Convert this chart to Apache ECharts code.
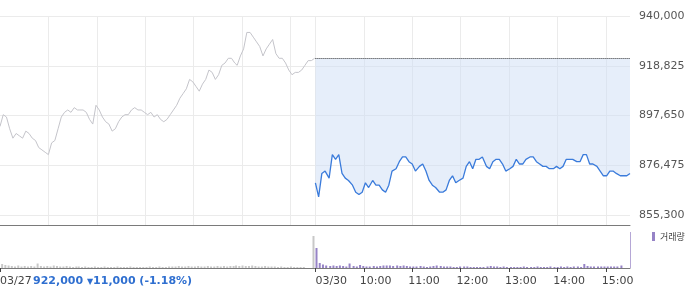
<!DOCTYPE html>
<html><head><meta charset="utf-8">
<script src="https://cdn.jsdelivr.net/npm/echarts@6.0.0/dist/echarts.min.js"></script>
<style>html,body{margin:0;padding:0;background:#fff}#c{width:700px;height:289px}</style>
</head><body><div id="c"></div>
<script>
// ---- data ----
const days = ['03/27', '03/30'];
const hourLabels = ['10:00', '11:00', '12:00', '13:00', '14:00', '15:00'];
const yTickLabels = ['855,300', '876,475', '897,650', '918,825', '940,000'];
const Y_MIN = 855300, Y_MAX = 940000, Y_STEP = 21175;
const prevClose = 922000;
const infoParts = ['922,000', '▼', '11,000 (-1.18%)'];
const volumeName = '거래량';

const prevPrices = [893000,898000,897000,892000,888000,890000,889000,888000,891000,890000,
  888000,887000,884000,883000,882000,881000,886000,887000,892000,897000,
  899000,900000,899000,901000,900000,900000,900000,899000,896000,894000,
  902000,900000,897000,895000,894000,891000,892000,895000,897000,898000,
  898000,900000,901000,900000,900000,899000,898000,899000,897000,898000,
  896000,895000,896000,898000,900000,902000,905000,907000,909000,913000,
  912000,910000,908000,911000,913000,917000,916000,913000,915000,919000,
  920000,922000,922000,920000,919000,923000,926000,933000,933000,931000,
  929000,927000,923000,926000,928000,930000,924000,922000,922000,920000,
  917000,915000,916000,916000,917000,919000,921000,921000,922000];

const todayPrices = [869000,863000,873000,874000,871000,881000,879000,881000,873000,871000,
  870000,868000,865000,864000,865000,869000,867000,870000,868000,868000,
  866000,865000,868000,874000,875000,878000,880000,880000,878000,877000,
  874000,876000,877000,874000,870000,868000,867000,865000,865000,866000,
  870000,872000,869000,870000,871000,876000,878000,875000,879000,879000,
  880000,876000,875000,878000,879000,879000,877000,874000,875000,876000,
  879000,877000,877000,879000,880000,880000,878000,877000,876000,876000,
  875000,875000,876000,875000,876000,879000,879000,879000,878000,878000,
  881000,881000,877000,877000,876000,874000,872000,872000,874000,874000,
  873000,872000,872000,872000,873000];

const prevVolume = [2200,400,300,250,200,150,250,150,200,150,
  200,150,450,200,150,200,150,250,200,150,
  150,200,150,100,150,150,100,150,100,100,
  150,100,100,150,100,100,100,150,100,100,
  100,150,100,100,100,100,100,150,100,100,
  150,100,100,150,150,150,200,150,150,200,
  150,150,200,150,150,200,150,150,200,150,
  200,150,200,200,250,200,250,200,200,250,
  200,150,150,200,150,150,150,100,150,100,
  100,150,100,100,100,100,0,0,3200];

const todayVolume = [2000,500,350,250,200,250,200,250,200,150,
  450,200,150,300,200,150,150,200,150,200,
  250,250,250,200,250,200,250,200,150,150,
  150,200,150,100,150,200,250,200,150,150,
  150,100,100,150,150,150,100,100,100,100,
  100,150,200,150,150,100,150,100,100,100,
  100,100,150,100,100,100,150,100,100,100,
  150,100,100,150,100,150,100,150,150,100,
  400,200,150,150,150,150,150,150,150,150,
  150,250,0,0,3600];

// ---- categories: one per minute, 09:00..15:30 for each day ----
const PER_DAY = 391;
const cats = [];
days.forEach(d => {
  for (let m = 0; m <= 390; m++) {
    const t = 540 + m;
    cats.push(d + ' ' + String(Math.floor(t / 60)).padStart(2, '0') + ':' + String(t % 60).padStart(2, '0'));
  }
});
const idxOf = (day, i, n) => day * PER_DAY + Math.round(i * 390 / (n - 1));

const prevLine = prevPrices.map((p, i) => [idxOf(0, i, prevPrices.length), p - Y_MIN]);
const todayLine = todayPrices.map((p, i) => [idxOf(1, i, todayPrices.length), p - Y_MIN]);
const prevVol = prevVolume.map((v, i) => [idxOf(0, i, prevVolume.length), v]);
const todayVol = todayVolume.map((v, i) => [idxOf(1, i, todayVolume.length), v]);

const isHour = idx => { const m = idx % PER_DAY; return m > 0 && m < 390 && m % 60 === 0; };
const gridLineAt = idx => isHour(idx) || idx === PER_DAY;
const volTickAt = idx => idx === 0 || idx === PER_DAY || (idx > PER_DAY && isHour(idx));
const LABEL_SHIFT = 5; // hour labels start slightly before their tick
const volLabelAt = idx => idx === 0 || idx === PER_DAY || (idx > PER_DAY && isHour(idx + LABEL_SHIFT));

const FONT = 'DejaVu Sans';
const GRIDC = '#ebebeb';
const AXC = '#7a7a7a';

const chart = echarts.init(document.getElementById('c'), null, {renderer: 'canvas'});
chart.setOption({
  animation: false,
  backgroundColor: '#fff',
  textStyle: {fontFamily: FONT},
  title: {
    text: '{v|' + infoParts[0] + ' }{a|' + infoParts[1] + '}{v|' + infoParts[2] + '}',
    left: 33, top: 276, padding: 0,
    textStyle: {
      rich: {
        v: {fontSize: 11, color: '#2f6fd0', fontFamily: FONT},
        a: {fontSize: 8, color: '#2f6fd0', fontFamily: FONT}
      }
    }
  },
  legend: {
    data: [volumeName], left: 652, top: 232, padding: 0,
    icon: 'rect', itemWidth: 3, itemHeight: 9, selectedMode: false,
    textStyle: {fontSize: 9, color: '#444', fontFamily: 'Noto Sans CJK KR'}
  },
  grid: [
    {left: 0, top: 16, width: 630, height: 199, containLabel: false, outerBoundsMode: 'none'},
    {left: 0, top: 226, width: 630, height: 42, containLabel: false, outerBoundsMode: 'none'},
    {left: 0, top: 215, width: 630, height: 10, containLabel: false, outerBoundsMode: 'none'}
  ],
  xAxis: [
    {
      type: 'category', gridIndex: 0, data: cats, boundaryGap: false,
      axisLine: {show: false}, axisTick: {show: false}, axisLabel: {show: false},
      splitLine: {show: true, interval: (i) => gridLineAt(i), lineStyle: {color: GRIDC, width: 1}}
    },
    {
      type: 'category', gridIndex: 1, data: cats, boundaryGap: false,
      axisLine: {show: true, onZero: false, lineStyle: {color: AXC, width: 1}},
      axisTick: {show: true, interval: (i) => volTickAt(i), length: 4, lineStyle: {color: '#444'}},
      splitLine: {show: false},
      axisLabel: {
        show: true, interval: (i) => volLabelAt(i), margin: 8, align: 'left',
        color: '#444', fontSize: 11, fontFamily: FONT,
        formatter: (val, idx) => {
          const m = idx % PER_DAY;
          if (m === 0) return days[Math.floor(idx / PER_DAY)];
          return hourLabels[(m + LABEL_SHIFT) / 60 - 1];
        }
      }
    },
    {
      type: 'category', gridIndex: 2, data: cats, boundaryGap: false,
      axisLine: {show: true, onZero: false, lineStyle: {color: AXC, width: 1}},
      axisTick: {show: false}, axisLabel: {show: false},
      splitLine: {show: true, interval: (i) => gridLineAt(i), lineStyle: {color: GRIDC, width: 1}}
    }
  ],
  yAxis: [
    {
      type: 'value', gridIndex: 0, position: 'right',
      min: 0, max: Y_MAX - Y_MIN, interval: Y_STEP,
      axisLine: {show: false}, axisTick: {show: false},
      splitLine: {show: true, lineStyle: {color: GRIDC, width: 1}},
      axisLabel: {
        show: true, margin: 9, color: '#555', fontSize: 11, fontFamily: FONT,
        formatter: (v) => {
          const i = Math.round(v / Y_STEP);
          return (i >= 0 && i < yTickLabels.length) ? yTickLabels[i] : '';
        }
      }
    },
    {
      type: 'value', gridIndex: 1, min: 0, max: 4200, show: false,
      splitLine: {show: false}
    },
    {
      type: 'value', gridIndex: 2, min: 0, max: 1, show: false,
      splitLine: {show: false}
    }
  ],
  series: [
    {
      type: 'line', xAxisIndex: 0, yAxisIndex: 0, data: prevLine,
      symbol: 'none', lineStyle: {color: '#c4c4ca', width: 1}, itemStyle: {color: '#c4c4ca'},
      silent: true, z: 3
    },
    {
      type: 'line', xAxisIndex: 0, yAxisIndex: 0, data: todayLine,
      symbol: 'none', lineStyle: {color: '#3a7bdb', width: 1.3}, itemStyle: {color: '#3a7bdb'},
      areaStyle: {origin: prevClose - Y_MIN, color: 'rgba(205,222,246,0.5)', opacity: 1},
      silent: true, z: 4,
      markLine: {
        silent: true, symbol: ['none', 'none'], label: {show: false},
        lineStyle: {type: [1, 1], color: '#333', width: 1},
        data: [[{coord: [cats[PER_DAY], prevClose - Y_MIN]}, {coord: [cats[cats.length - 1], prevClose - Y_MIN]}]]
      }
    },
    {
      type: 'bar', xAxisIndex: 1, yAxisIndex: 1, data: prevVol,
      barWidth: 2, itemStyle: {color: '#c8c8c8'}, silent: true
    },
    {
      type: 'bar', name: volumeName, xAxisIndex: 1, yAxisIndex: 1, data: todayVol,
      barWidth: 2, itemStyle: {color: '#9683c6'}, silent: true
    }
  ]
});
</script>
</body></html>
